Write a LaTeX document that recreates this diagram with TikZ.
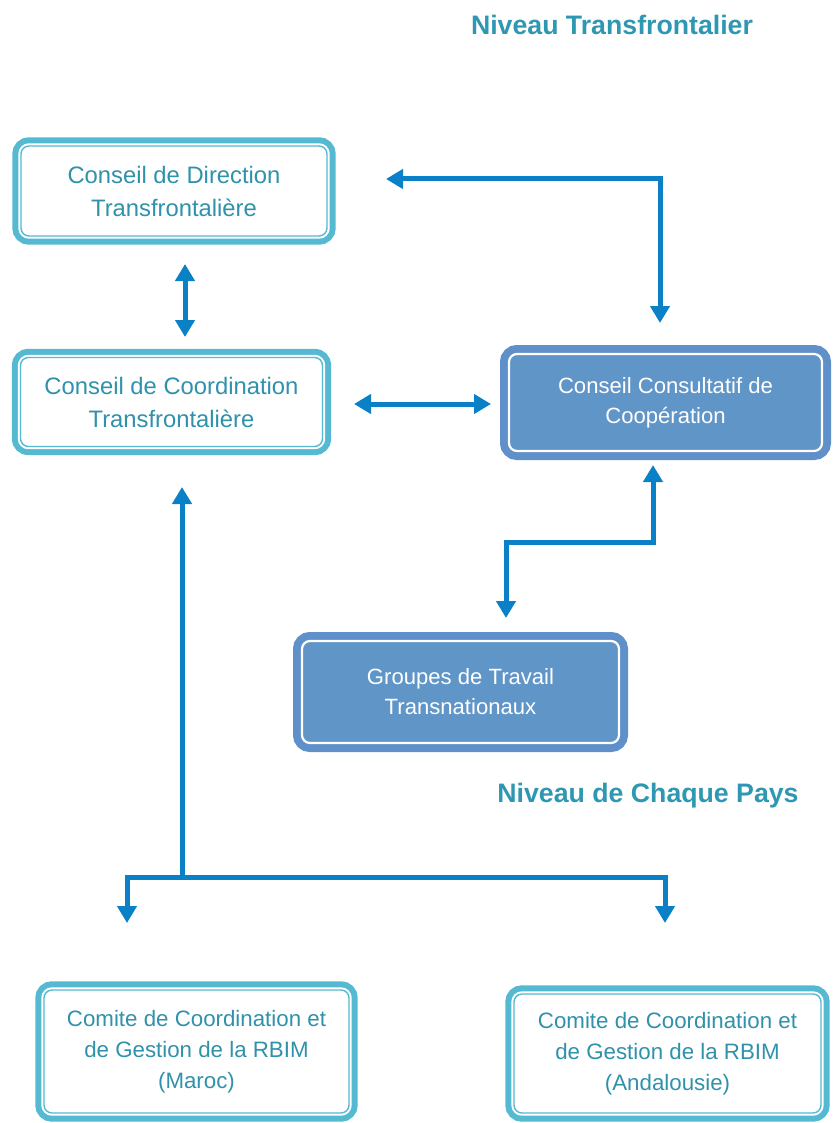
\documentclass[tikz,border=0pt]{standalone}
\usepackage{fontspec}
\setmainfont{Liberation Sans}
\usetikzlibrary{arrows.meta}
\definecolor{lc}{HTML}{55B9D2}
\definecolor{tc}{HTML}{2F92AA}
\definecolor{dfill}{HTML}{6095C8}
\definecolor{dborder}{HTML}{5F90C9}
\definecolor{ac}{HTML}{0A80C6}
\definecolor{hc}{HTML}{2E97B2}
\tikzset{
  lbox/.style={rounded corners=8pt, fill=white, draw=lc, line width=1.4pt,
    preaction={draw=lc, line width=17.4pt},
    preaction={draw=white, line width=5.4pt},
    text=tc, align=center, inner sep=0pt,
    font=\fontsize{23.8}{33}\selectfont},
  dbox/.style={rounded corners=8pt, fill=dfill, draw=white, line width=2.2pt,
    preaction={draw=dborder, line width=18pt},
    text=white, align=center, inner sep=0pt,
    font=\fontsize{22.1}{30}\selectfont},
  title/.style={text=hc, font=\fontsize{26.7}{30}\selectfont\bfseries},
  arr/.style={draw=ac, line width=5pt},
  bigtri/.tip={Triangle[width=19pt,length=17pt]}
}
\begin{document}
\begin{tikzpicture}[x=1pt,y=-1pt]
\useasboundingbox (0,0) rectangle (832,1123);
\node[title] (t1) at (612,25) {Niveau Transfrontalier};
\node[title] (t2) at (648,796) {Niveau de Chaque Pays};

\node[lbox, minimum width=306pt, minimum height=90pt] (dir) at (174,191)
  {Conseil de Direction\\Transfrontalière};
\node[lbox, minimum width=302pt, minimum height=89pt] (coo) at (171.5,402)
  {Conseil de Coordination\\Transfrontalière};
\node[dbox, minimum width=313pt, minimum height=97pt] (cons) at (665.5,402.5)
  {Conseil Consultatif de\\Coopération};
\node[dbox, minimum width=317pt, minimum height=102pt] (grp) at (460.5,692)
  {Groupes de Travail\\Transnationaux};
\node[lbox, minimum width=305pt, minimum height=123pt, font=\fontsize{22.3}{31}\selectfont] (mar) at (196.5,1051.5)
  {Comite de Coordination et\\de Gestion de la RBIM\\(Maroc)};
\node[lbox, minimum width=307pt, minimum height=119pt, font=\fontsize{22.3}{31}\selectfont] (and) at (667.5,1053.5)
  {Comite de Coordination et\\de Gestion de la RBIM\\(Andalousie)};

% free ends of connectors
\coordinate (a1s) at (386,179);
\coordinate (a1e) at (660,323);
\coordinate (a2s) at (185,264);
\coordinate (a2e) at (185,337);
\coordinate (a3s) at (354,404);
\coordinate (a3e) at (491,404);
\coordinate (a4s) at (653,465);
\coordinate (a4m) at (506,542);
\coordinate (a4e) at (506,618);
\coordinate (a5s) at (182,487);
\coordinate (a5j) at (182,877);
\coordinate (a5l) at (127,923);
\coordinate (a5r) at (665,923);

\draw[arr, bigtri-bigtri] (a1s) -| (a1e);
\draw[arr, bigtri-bigtri] (a2s) -- (a2e);
\draw[arr, bigtri-bigtri] (a3s) -- (a3e);
\draw[arr, bigtri-bigtri] (a4s) |- (a4m) -- (a4e);
\draw[arr, bigtri-] (a5s) -- (a5j);
\draw[arr, -bigtri] (a5j) -| (a5l);
\draw[arr, -bigtri] (a5j) -| (a5r);
\end{tikzpicture}
\end{document}
